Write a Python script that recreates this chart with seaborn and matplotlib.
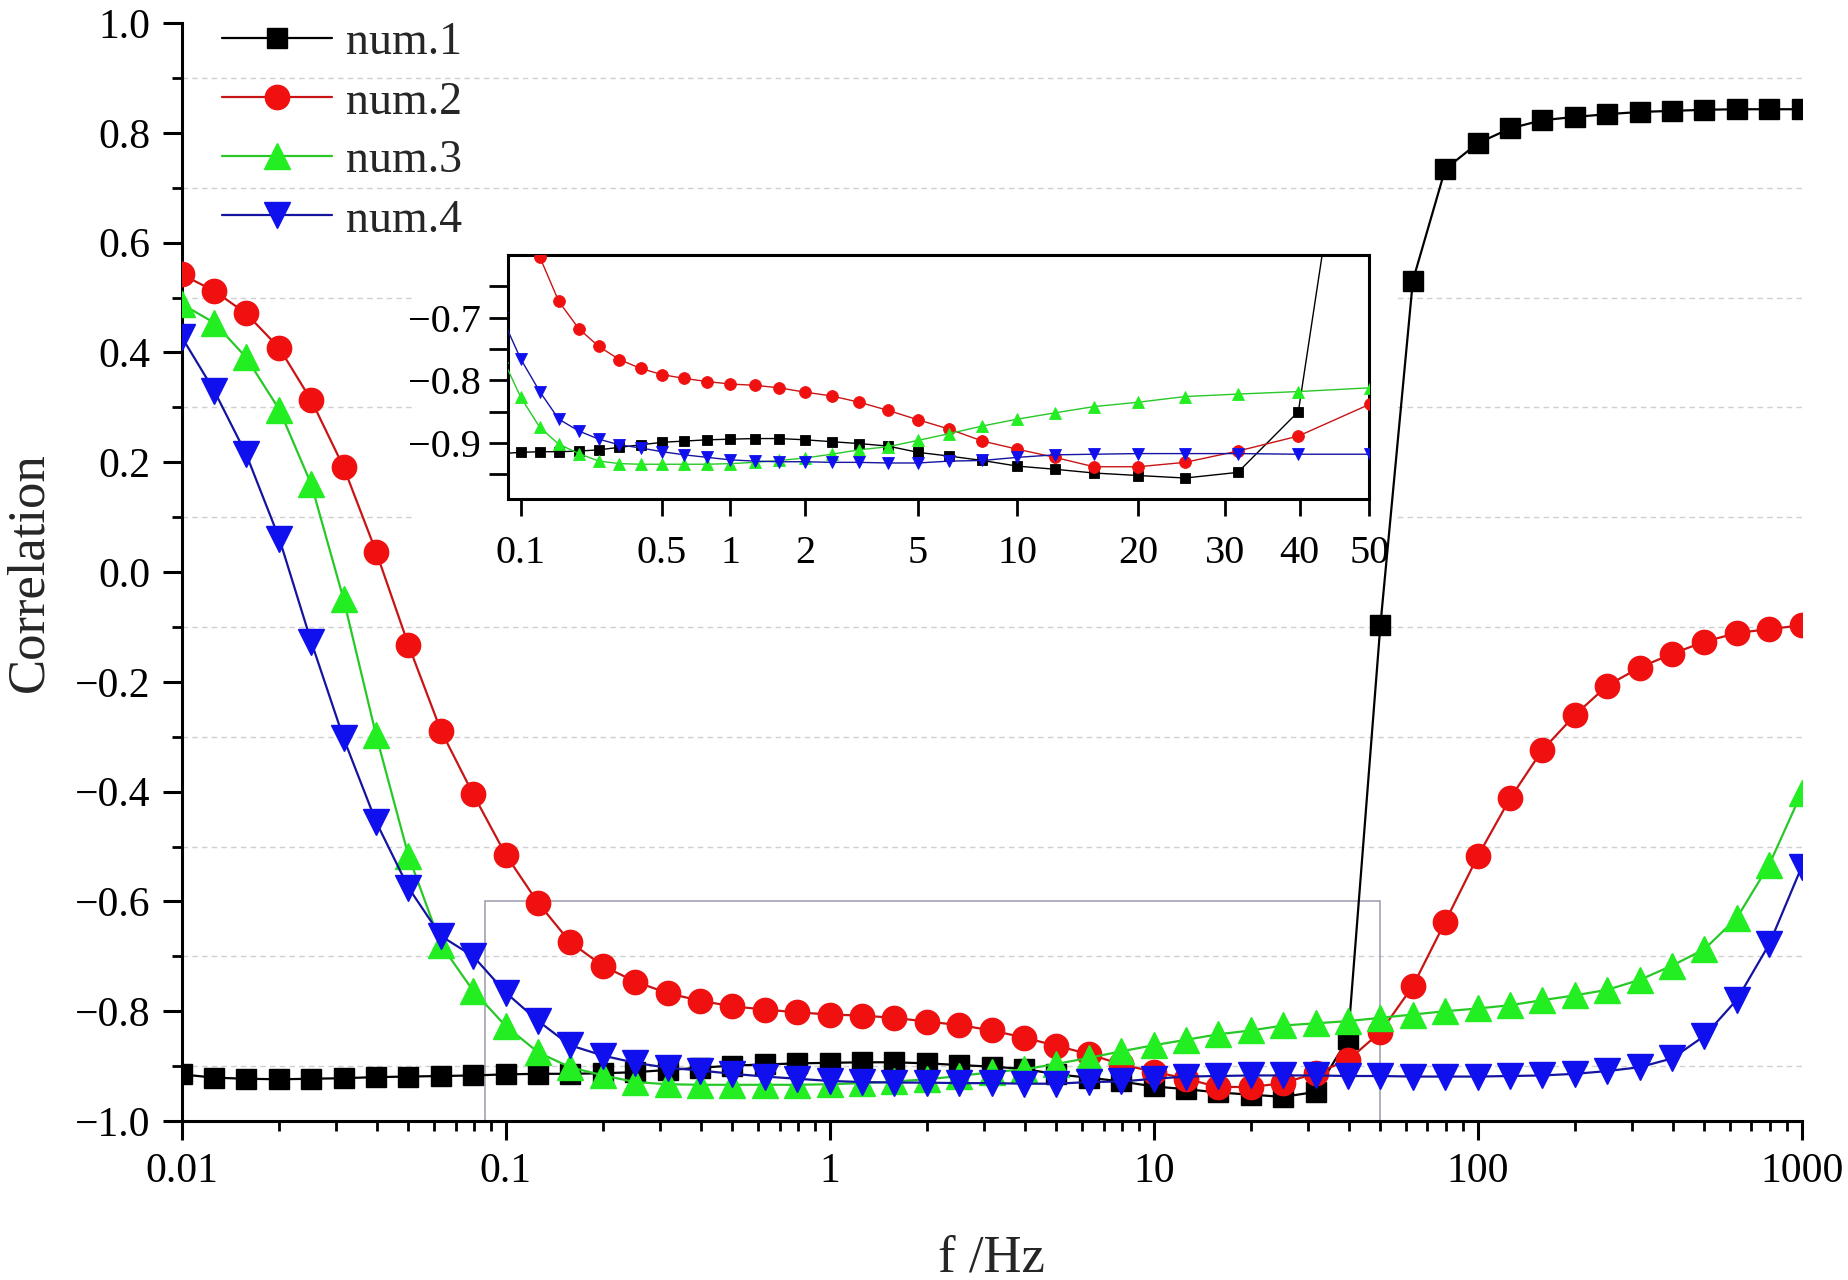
import numpy as np
import pandas as pd
import matplotlib
matplotlib.use("Agg")
import matplotlib.pyplot as plt
import seaborn as sns
from statistics import NormalDist
from matplotlib.patches import Rectangle
from matplotlib.ticker import LogLocator, NullFormatter, NullLocator, FixedLocator

# ---------------- data ----------------
freq = [0.01, 0.0126, 0.0158, 0.02, 0.0251, 0.0316, 0.0398, 0.0501, 0.0631, 0.0794,
        0.1, 0.126, 0.158, 0.2, 0.251, 0.316, 0.398, 0.501, 0.631, 0.794,
        1, 1.26, 1.58, 2, 2.51, 3.16, 3.98, 5.01, 6.31, 7.94,
        10, 12.6, 15.8, 20, 25.1, 31.6, 39.8, 50.1, 63.1, 79.4,
        100, 126, 158, 200, 251, 316, 398, 501, 631, 794, 1000]

num1 = [-0.915, -0.921, -0.923, -0.924, -0.923, -0.922, -0.920, -0.919, -0.918, -0.917,
        -0.915, -0.914, -0.914, -0.913, -0.911, -0.907, -0.903, -0.899, -0.897, -0.895,
        -0.894, -0.893, -0.893, -0.895, -0.898, -0.901, -0.905, -0.915, -0.921, -0.928,
        -0.937, -0.942, -0.948, -0.952, -0.956, -0.947, -0.850, -0.096, 0.531, 0.734,
        0.781, 0.808, 0.823, 0.829, 0.834, 0.838, 0.840, 0.842, 0.843, 0.843, 0.843]

num2 = [0.542, 0.512, 0.471, 0.408, 0.313, 0.191, 0.037, -0.133, -0.289, -0.405,
        -0.515, -0.603, -0.674, -0.718, -0.746, -0.767, -0.781, -0.791, -0.797, -0.802,
        -0.806, -0.808, -0.812, -0.819, -0.825, -0.835, -0.848, -0.863, -0.878, -0.897,
        -0.910, -0.923, -0.938, -0.938, -0.931, -0.913, -0.889, -0.838, -0.754, -0.637,
        -0.518, -0.412, -0.325, -0.260, -0.207, -0.174, -0.149, -0.127, -0.111, -0.104, -0.097]

num3 = [0.488, 0.454, 0.391, 0.296, 0.160, -0.050, -0.297, -0.517, -0.679, -0.763,
        -0.827, -0.875, -0.902, -0.917, -0.929, -0.933, -0.934, -0.934, -0.934, -0.934,
        -0.933, -0.931, -0.928, -0.924, -0.918, -0.911, -0.906, -0.896, -0.885, -0.873,
        -0.862, -0.852, -0.842, -0.835, -0.826, -0.822, -0.818, -0.812, -0.806, -0.800,
        -0.795, -0.789, -0.780, -0.771, -0.761, -0.743, -0.717, -0.687, -0.630, -0.533, -0.402]

num4 = [0.428, 0.330, 0.215, 0.061, -0.127, -0.303, -0.455, -0.575, -0.663, -0.700,
        -0.766, -0.818, -0.862, -0.881, -0.894, -0.903, -0.908, -0.914, -0.919, -0.923,
        -0.927, -0.929, -0.930, -0.930, -0.931, -0.931, -0.932, -0.932, -0.929, -0.928,
        -0.923, -0.919, -0.918, -0.917, -0.917, -0.917, -0.918, -0.918, -0.919, -0.919,
        -0.919, -0.918, -0.917, -0.914, -0.909, -0.902, -0.886, -0.845, -0.779, -0.678, -0.537]

series_names = ["num.1", "num.2", "num.3", "num.4"]
series_vals = [num1, num2, num3, num4]

main_xticks = [0.01, 0.1, 1, 10, 100, 1000]
main_xticklabels = ["0.01", "0.1", "1", "10", "100", "1000"]
main_yticks = [-1.0, -0.8, -0.6, -0.4, -0.2, 0.0, 0.2, 0.4, 0.6, 0.8, 1.0]
inset_xticks = [0.1, 0.5, 1, 2, 5, 10, 20, 30, 40, 50]
inset_xticklabels = ["0.1", "0.5", "1", "2", "5", "10", "20", "30", "40", "50"]
inset_yticks = [-0.9, -0.8, -0.7]
inset_yminor = [-0.95, -0.85, -0.75, -0.65]

# ---------------- style ----------------
sns.set_style("ticks")
SERIF = ["Liberation Serif", "DejaVu Serif"]
plt.rcParams["font.family"] = SERIF
plt.rcParams["font.serif"] = SERIF
plt.rcParams["axes.unicode_minus"] = True

line_colors = ["#000000", "#c81414", "#28c828", "#1414a0"]
face_colors = ["#000000", "#f01010", "#22ee22", "#1010ee"]
markers = ["s", "o", "^", "v"]
main_ms = [14.5, 17.5, 19.0, 19.0]
inset_ms = [7.0, 8.5, 9.0, 9.0]

df = pd.DataFrame({"f": freq})
for n, v in zip(series_names, series_vals):
    df[n] = v

fig = plt.figure(figsize=(18.49, 12.80), dpi=100)
ax = fig.add_axes([0.0983, 0.1242, 0.8761, 0.8578])

for k, n in enumerate(series_names):
    sns.lineplot(data=df, x="f", y=n, ax=ax, color=line_colors[k], lw=1.6,
                 marker=markers[k], markersize=main_ms[k],
                 markerfacecolor=face_colors[k], markeredgecolor=face_colors[k],
                 markeredgewidth=1.0, label=n, zorder=3 + k, legend=False)

ax.set_xscale("log")
ax.set_xlim(0.01, 1000)
ax.set_ylim(-1.0, 1.0)

ax.set_xticks(main_xticks)
ax.set_xticklabels(main_xticklabels, fontfamily=SERIF)
ax.xaxis.set_minor_locator(LogLocator(base=10, subs=np.arange(2, 10)))
ax.xaxis.set_minor_formatter(NullFormatter())
ax.set_yticks(main_yticks)
ax.set_yticklabels([f"{t:.1f}".replace("-", "\u2212") for t in main_yticks], fontfamily=SERIF)
ax.yaxis.set_minor_locator(FixedLocator([-0.9, -0.7, -0.5, -0.3, -0.1, 0.1, 0.3, 0.5, 0.7, 0.9]))

for s in ["top", "right"]:
    ax.spines[s].set_visible(False)
for s in ["left", "bottom"]:
    ax.spines[s].set_linewidth(2.2)
    ax.spines[s].set_color("black")

ax.tick_params(which="major", direction="out", length=13.5, width=2.2, labelsize=30,
               pad=9, colors="black", labelfontfamily="Liberation Serif")
ax.tick_params(which="minor", direction="out", length=7, width=2.0, colors="black")

ax.grid(False)
ax.yaxis.grid(True, which="minor", color="#d0d0d0", linestyle=(0, (4, 3)), linewidth=1.0)

ax.set_xlabel("f /Hz", fontsize=38, fontfamily=SERIF)
ax.set_ylabel("Correlation", fontsize=38, fontfamily=SERIF)
ax.xaxis.set_label_coords(0.5, -0.125)
ax.xaxis.label.set_va("center")
ax.yaxis.set_label_coords(-0.094, 0.5)
ax.yaxis.label.set_va("center")

# zoom-region outline
ax.add_patch(Rectangle((0.086, -1.0), 50 - 0.086, 0.4, fill=False,
                       edgecolor="#9a9aae", linewidth=1.1, zorder=2))
# white background of the inset layer
ax.add_patch(Rectangle((416 / 1849, 1 - 600 / 1280), (1397 - 416) / 1849, (600 - 240) / 1280,
                       transform=fig.transFigure, facecolor="white", edgecolor="none",
                       zorder=1.5))

handles, labels = ax.get_legend_handles_labels()
leg = ax.legend(handles, labels, loc="upper left", bbox_to_anchor=(222 / 1849, 1 - 22 / 1280),
                bbox_transform=fig.transFigure, frameon=False,
                prop={"family": SERIF, "size": 33},
                handlelength=2.4, handletextpad=0.3, labelspacing=0.36,
                borderpad=0, borderaxespad=0)

# ---------------- inset (probability scale) ----------------
nd = NormalDist()


def _fwd(x):
    x = np.asarray(x, dtype=float)
    p = np.clip(x / 100.0, 1e-9, 1 - 1e-9)
    flat = [nd.inv_cdf(v) if np.isfinite(v) else np.nan for v in np.ravel(p)]
    return np.array(flat, dtype=float).reshape(p.shape)


def _inv(y):
    y = np.asarray(y, dtype=float)
    flat = [nd.cdf(v) * 100.0 if np.isfinite(v) else np.nan for v in np.ravel(y)]
    return np.array(flat, dtype=float).reshape(y.shape)


axin = fig.add_axes([0.2749, 0.6099, 0.4657, 0.1909])
axin.set_facecolor("white")
sub = df.iloc[8:38]
for k, n in enumerate(series_names):
    sns.lineplot(data=sub, x="f", y=n, ax=axin, color=line_colors[k], lw=1.0,
                 marker=markers[k], markersize=inset_ms[k],
                 markerfacecolor=face_colors[k], markeredgecolor=face_colors[k],
                 markeredgewidth=0.6, zorder=3 + k, legend=False)

axin.set_xscale("function", functions=(_fwd, _inv))
axin.set_xlim(0.0858, 50.0)
axin.set_ylim(-0.99, -0.6)
axin.set_xticks(inset_xticks)
axin.set_xticklabels(inset_xticklabels, fontfamily=SERIF)
axin.xaxis.set_minor_locator(NullLocator())
axin.set_yticks(inset_yticks)
axin.set_yticklabels([f"{t:.1f}".replace("-", "\u2212") for t in inset_yticks], fontfamily=SERIF)
axin.yaxis.set_minor_locator(FixedLocator(inset_yminor))
axin.set_xlabel("")
axin.set_ylabel("")
axin.grid(False)
for s in axin.spines.values():
    s.set_linewidth(2.2)
    s.set_color("black")
    s.set_visible(True)
axin.tick_params(axis="x", which="major", direction="out", length=12, width=2.0,
                 labelsize=29, pad=14, colors="black", labelfontfamily="Liberation Serif")
axin.tick_params(axis="y", which="both", direction="out", length=14, width=2.0,
                 labelsize=29, pad=6, colors="black", labelfontfamily="Liberation Serif")
axin.tick_params(top=False, right=False)

fig.savefig("out.png", dpi=100)
